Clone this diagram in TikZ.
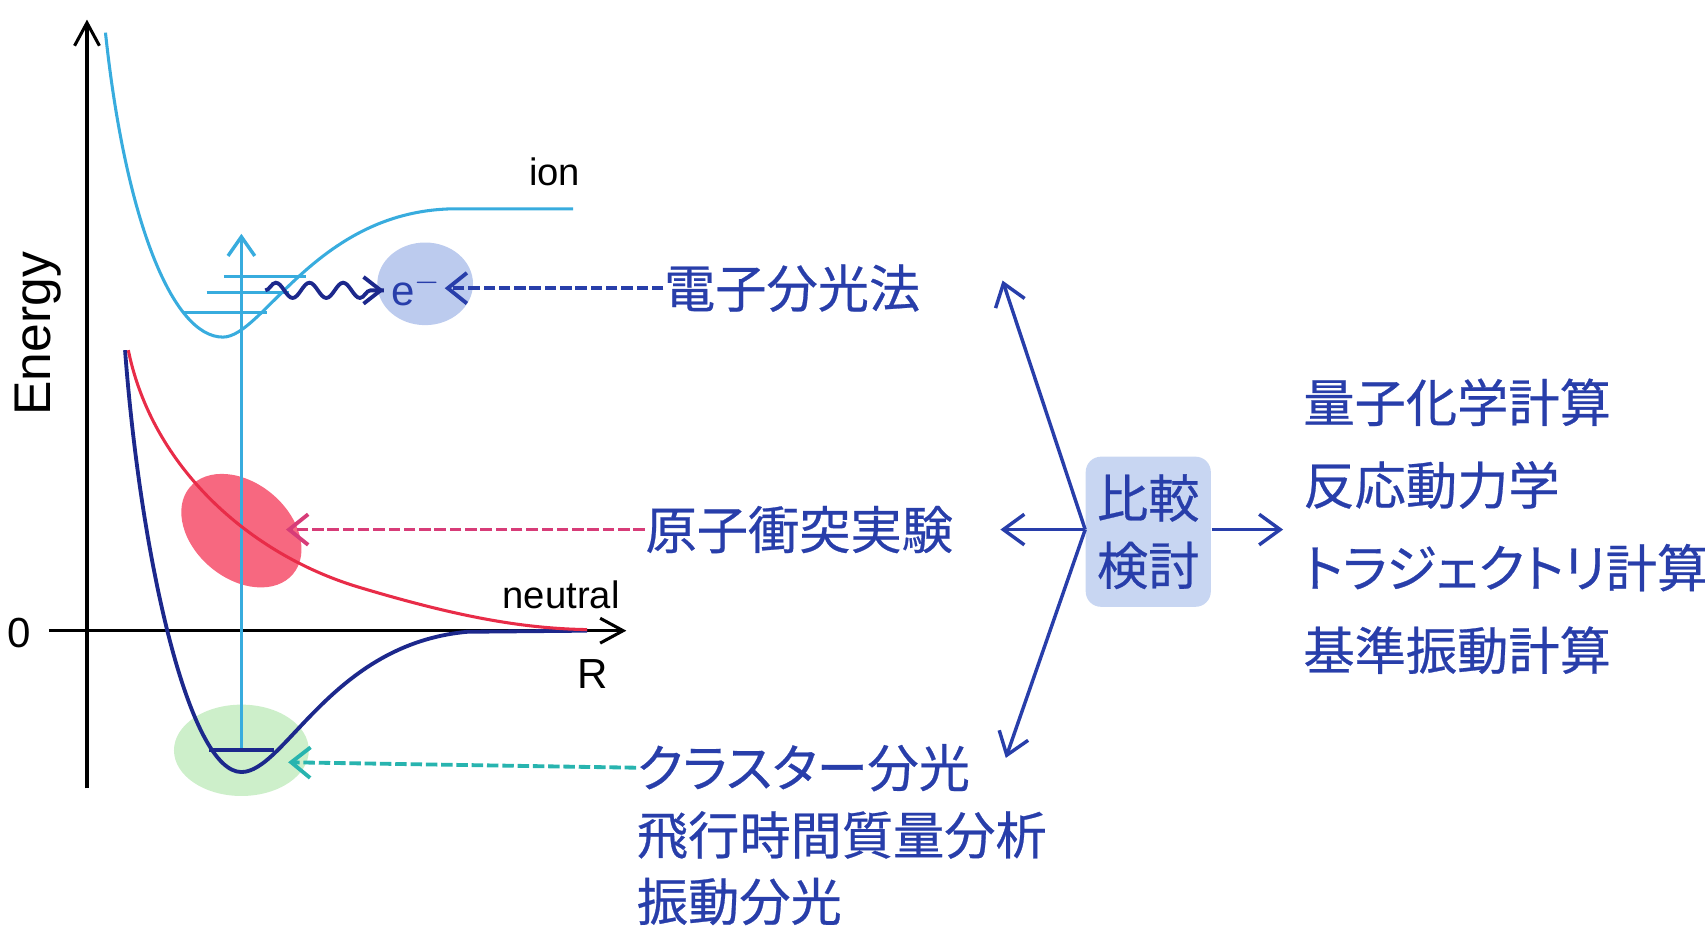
\documentclass[tikz,border=0pt]{standalone}
\usepackage{fontspec}
\setmainfont{Liberation Sans}
\newfontfamily\cjk[RawFeature={+palt},FakeBold=0.5]{Noto Sans CJK JP}
\usetikzlibrary{arrows.meta,decorations.pathmorphing}
\definecolor{ionblue}{RGB}{56,172,222}
\definecolor{navy}{RGB}{28,40,140}
\definecolor{tblue}{RGB}{40,62,170}
\definecolor{redc}{RGB}{232,44,72}
\definecolor{pinkfill}{RGB}{247,104,128}
\definecolor{pinkarr}{RGB}{215,60,120}
\definecolor{greenfill}{RGB}{205,239,202}
\definecolor{tealarr}{RGB}{40,180,175}
\definecolor{efill}{RGB}{188,203,238}
\definecolor{boxfill}{RGB}{200,214,242}
\newcommand\jpfont{\cjk\fontsize{13.4}{17.6}\selectfont}
\begin{document}
\begin{tikzpicture}[x=0.01cm,y=-0.01cm,
  axis/.style={black,line width=0.8pt,-{Straight Barb[length=6pt,width=6.5pt]}},
  curve/.style={line width=0.8pt},
  jp/.style={font=\jpfont,text=tblue,inner sep=0pt,anchor=west},
  lat/.style={inner sep=0pt,text=black},
  dasharrow/.style={line width=1pt,dash pattern=on 3pt off 1pt,-{Straight Barb[length=5pt,width=8pt]}},
  bigarrow/.style={tblue,line width=0.9pt,-{Straight Barb[length=5.5pt,width=8pt]}}]
\useasboundingbox (0,0) rectangle (1568,853);
% filled blobs
\fill[greenfill] (222,690) ellipse [x radius=62, y radius=42];
\fill[efill] (391,261) ellipse [x radius=44, y radius=38];
\fill[pinkfill,rotate around={-40:(222,488)}] (222,488) ellipse [x radius=62, y radius=44];
% axes
\coordinate (yb) at (80,725);
\coordinate (yt) at (80,18);
\coordinate (xl) at (45,580);
\coordinate (xr) at (576,580);
\draw[axis] (yb) -- (yt);
\draw[axis] (xl) -- (xr);
\node[lat,font=\fontsize{11}{13}\selectfont] (zero) at (18,582) {0};
\node[lat,font=\fontsize{11}{13}\selectfont] (R) at (545,620) {R};
\node[lat,rotate=90,font=\fontsize{13.5}{16}\selectfont] (energy) at (35,307) {Energy};
\node[lat,font=\fontsize{10}{12}\selectfont] (ion) at (510,158) {ion};
\node[lat,font=\fontsize{10}{12}\selectfont] (neutral) at (516,547) {neutral};
% vertical excitation arrow
\coordinate (vb) at (222,690);
\coordinate (vt) at (222,215);
\draw[ionblue,line width=0.9pt,-{Straight Barb[length=5pt,width=7pt]}] (vb) -- (vt);
% ion curve
\draw[curve,ionblue] (97,30) .. controls (115,200) and (158,310) .. (205,310)
  .. controls (242,310) and (292,192) .. (420,192) -- (527,192);
\draw[curve,ionblue] (206,254) -- (281,254);
\draw[curve,ionblue] (190,269) -- (266,269);
\draw[curve,ionblue] (169,287) -- (246,287);
% neutral curve
\draw[curve,navy,line width=1pt] (115,322) .. controls (130,520) and (175,710) .. (222,710)
  .. controls (262,710) and (305,592) .. (430,581) -- (540,580);
\draw[navy,line width=1pt] (192,690) -- (252,690);
% repulsive curve
\draw[curve,redc] (118,322) .. controls (140,430) and (230,510) .. (330,540) .. controls (420,567) and (480,578) .. (540,579);
% wavy electron arrow
\coordinate (ws) at (244,267);
\coordinate (we) at (353,267);
\draw[navy,line width=1pt,decorate,decoration={snake,segment length=8.8pt,amplitude=2pt,post length=2pt}] (ws) -- (we);
\draw[navy,line width=1pt,-{Straight Barb[length=4.5pt,width=7pt]}] (346,267) -- (we);
\node[inner sep=0pt,text=tblue,font=\fontsize{11}{13}\selectfont] (e) at (383,266) {e$^{-}$};
% labels on the middle column
\node[jp] (pes) at (610,265) {電子分光法};
\node[jp] (col) at (593,487) {原子衝突実験};
\node[jp] (cl1) at (585,706) {クラスター分光};
\node[jp] (cl2) at (585,768) {飛行時間質量分析};
\node[jp] (cl3) at (585,829) {振動分光};
\coordinate (etip) at (409,265);
\coordinate (ptip) at (263,487);
\coordinate (gtip) at (265,701);
\draw[dasharrow,tblue] (pes.west) -- (etip);
\draw[dasharrow,pinkarr] (col.west) -- (ptip);
\draw[dasharrow,tealarr] (cl1.west) -- (gtip);
% comparison box
\node[fill=boxfill,rounded corners=4pt,minimum width=1.15cm,minimum height=1.38cm,
  inner sep=0pt,text=tblue,align=center,font=\jpfont] (cmp) at (1056,489) {比較\\検討};
\coordinate (v) at (998,487);
\coordinate (up) at (922,258);
\coordinate (lf) at (920,487);
\coordinate (dn) at (925,697);
\coordinate (rt) at (1180,487);
\draw[bigarrow] (v) -- (up);
\draw[bigarrow] (v) -- (lf);
\draw[bigarrow] (v) -- (dn);
\draw[bigarrow] (cmp.east |- v) -- (rt);
% right list
\node[jp] (r1) at (1198,370) {量子化学計算};
\node[jp] (r2) at (1198,446) {反応動力学};
\node[jp] (r3) at (1198,522) {トラジェクトリ計算};
\node[jp] (r4) at (1198,598) {基準振動計算};
\end{tikzpicture}
\end{document}
